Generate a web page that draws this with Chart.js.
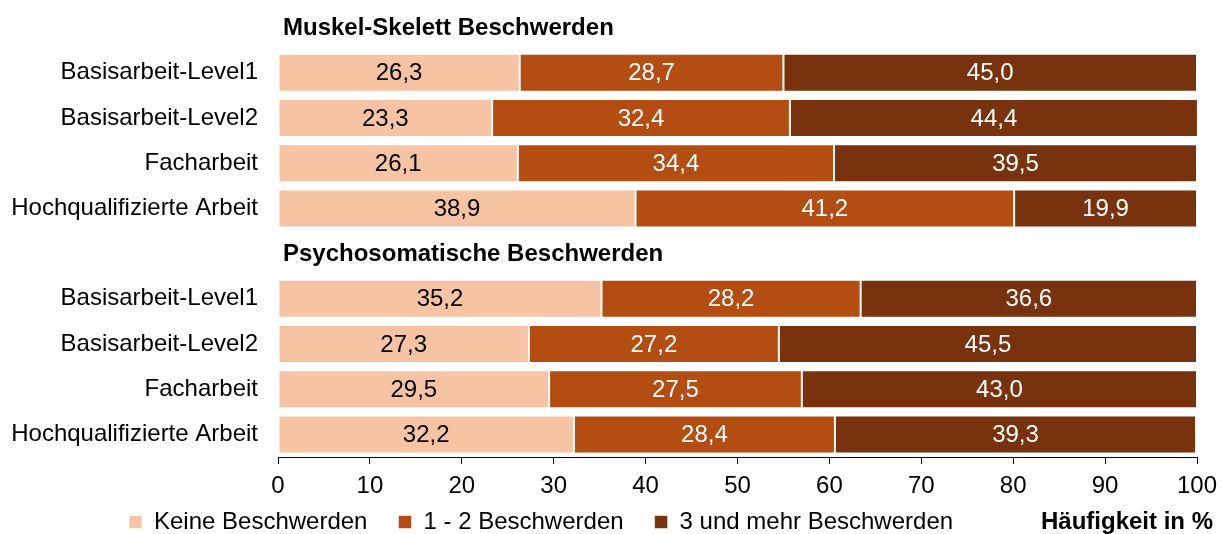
<!DOCTYPE html>
<html>
<head>
<meta charset="utf-8">
<script src="https://cdn.jsdelivr.net/npm/chart.js@4/dist/chart.umd.min.js"></script>
<style>
  html, body { margin: 0; padding: 0; background: #fff; }
  #wrap { width: 1223px; height: 534px; }
</style>
</head>
<body>
<div id="wrap"><canvas id="chart" width="1223" height="534"></canvas></div>
<script>
// Gruppen und Kategorien
const groupTitles = ['Muskel-Skelett Beschwerden', 'Psychosomatische Beschwerden']
const occupations = ['Basisarbeit-Level1', 'Basisarbeit-Level2', 'Facharbeit', 'Hochqualifizierte Arbeit']
const seriesNames = ['Keine Beschwerden', '1 - 2 Beschwerden', '3 und mehr Beschwerden']
const xTicks = [0, 10, 20, 30, 40, 50, 60, 70, 80, 90, 100]
const axisUnit = 'Häufigkeit in %'

// Werte je Gruppe (4 Berufsgruppen pro Block)
const keineBeschwerden = [26.3, 23.3, 26.1, 38.9, 35.2, 27.3, 29.5, 32.2]
const einsBisZwei = [28.7, 32.4, 34.4, 41.2, 28.2, 27.2, 27.5, 28.4]
const dreiUndMehr = [45.0, 44.4, 39.5, 19.9, 36.6, 45.5, 43.0, 39.3]

const colors = ['#F6C3A3', '#B44D12', '#78330E']
const labelColors = ['#000', '#fff', '#fff']
const FONT = '"Liberation Sans", Arial, sans-serif'

// build rows: header row per group followed by its occupations
let labels = []
let headerRows = {}
groupTitles.forEach((title) => {
    headerRows[labels.length] = title
    labels.push(title)
    occupations.forEach((occ) => labels.push(occ))
})

function toRows(values) {
    let out = []
    groupTitles.forEach((title, g) => {
        out.push(null)
        occupations.forEach((occ, o) => out.push(values[g * occupations.length + o]))
    })
    return out
}

const seriesValues = [keineBeschwerden, einsBisZwei, dreiUndMehr]

Chart.defaults.font.family = FONT
Chart.defaults.font.size = 24
Chart.defaults.color = '#000'

const valueLabels = {
    id: 'valueLabels',
    afterDatasetsDraw(chart) {
        let ctx = chart.ctx
        ctx.save()
        ctx.font = '24px ' + FONT
        ctx.textAlign = 'center'
        ctx.textBaseline = 'middle'
        chart.data.datasets.forEach((ds, i) => {
            let meta = chart.getDatasetMeta(i)
            meta.data.forEach((bar, j) => {
                let v = ds.data[j]
                if (v === null || v === undefined) return
                ctx.fillStyle = labelColors[i]
                ctx.fillText(v.toFixed(1).replace('.', ','), (bar.x + bar.base) / 2, bar.y + 1)
            })
        })
        ctx.restore()
    }
}

const groupHeaders = {
    id: 'groupHeaders',
    afterDraw(chart) {
        let ctx = chart.ctx
        let yScale = chart.scales.y
        ctx.save()
        ctx.font = 'bold 24px ' + FONT
        ctx.fillStyle = '#000'
        ctx.textAlign = 'left'
        ctx.textBaseline = 'middle'
        Object.keys(headerRows).forEach((idx) => {
            ctx.fillText(headerRows[idx], chart.chartArea.left + 5, yScale.getPixelForValue(Number(idx)) + 1)
        })
        // unit caption next to the legend
        ctx.textAlign = 'right'
        ctx.fillText(axisUnit, 1213, 522)
        ctx.restore()
    }
}

const legendPlacement = {
    id: 'legendPlacement',
    afterLayout(chart) {
        let lg = chart.legend
        let pad = lg.options.labels.padding
        lg.left = 129 - pad
        lg.top = 522 - 12 - pad
    }
}

let ctx = document.getElementById('chart').getContext('2d')
new Chart(ctx, {
    type: 'bar',
    data: {
        labels: labels,
        datasets: seriesNames.map((name, i) => ({
            label: name,
            data: toRows(seriesValues[i]),
            backgroundColor: colors[i],
            borderColor: 'rgba(255,255,255,0.55)',
            borderWidth: 1,
            borderSkipped: false,
            categoryPercentage: 1,
            barPercentage: 0.84
        }))
    },
    options: {
        indexAxis: 'y',
        responsive: false,
        animation: false,
        layout: { padding: { left: 10, right: 26, top: 5, bottom: 0 } },
        scales: {
            x: {
                stacked: true,
                min: 0,
                max: 100,
                afterBuildTicks: (axis) => { axis.ticks = xTicks.map((v) => ({ value: v })) },
                afterFit: (scale) => {
                    scale.height = 42
                    scale.paddingLeft = 0
                    scale.paddingRight = 0
                },
                grid: { drawOnChartArea: false, drawTicks: true, tickLength: 7, color: '#000' },
                border: { display: true, color: '#000', width: 1 },
                ticks: { padding: 8, color: '#000' }
            },
            y: {
                stacked: true,
                afterFit: (scale) => {
                    scale.width = 268
                    scale.paddingTop = 0
                    scale.paddingBottom = 0
                },
                grid: { display: false, drawTicks: false },
                border: { display: false },
                ticks: {
                    padding: 20,
                    color: '#000',
                    autoSkip: false,
                    callback: function (value, index) {
                        return headerRows[index] !== undefined ? '' : labels[index]
                    }
                }
            }
        },
        plugins: {
            legend: {
                position: 'bottom',
                align: 'start',
                maxHeight: 35,
                labels: { boxWidth: 13, boxHeight: 13, padding: 31, color: '#000' }
            },
            tooltip: { enabled: false }
        }
    },
    plugins: [valueLabels, groupHeaders, legendPlacement]
})
</script>
</body>
</html>
